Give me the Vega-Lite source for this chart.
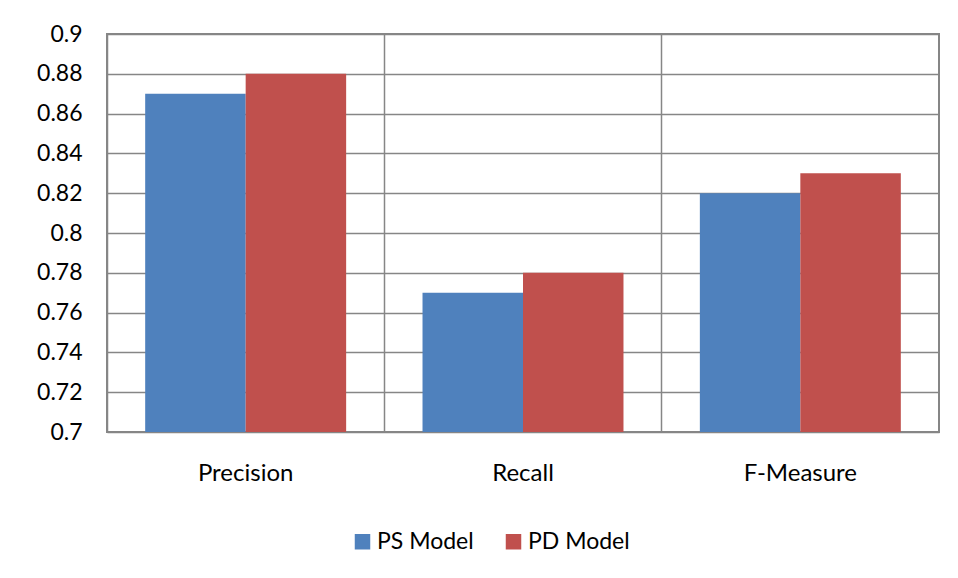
{
  "$schema": "https://vega.github.io/schema/vega-lite/v6.json",
  "width": 832,
  "height": 398,
  "autosize": {"type": "none"},
  "padding": {"left": 107, "top": 34, "right": 19, "bottom": 146},
  "background": "white",
  "data": {"values": [
    {"metric": "Precision", "model": "PS Model", "value": 0.87},
    {"metric": "Precision", "model": "PD Model", "value": 0.88},
    {"metric": "Recall", "model": "PS Model", "value": 0.77},
    {"metric": "Recall", "model": "PD Model", "value": 0.78},
    {"metric": "F-Measure", "model": "PS Model", "value": 0.82},
    {"metric": "F-Measure", "model": "PD Model", "value": 0.83}
  ]},
  "mark": {"type": "bar"},
  "encoding": {
    "x": {
      "field": "metric", "type": "nominal", "sort": ["Precision", "Recall", "F-Measure"],
      "scale": {"paddingInner": 0, "paddingOuter": 0},
      "axis": {"title": null, "labelAngle": 0, "bandPosition": 0, "grid": true, "gridColor": "#868686", "gridWidth": 1.5,
        "ticks": false, "domain": false, "labelPadding": 29, "labelFontSize": 24, "labelFont": "Lato", "labelColor": "#000000"}
    },
    "xOffset": {"field": "model", "type": "nominal", "sort": ["PS Model", "PD Model"], "scale": {"paddingInner": 0, "paddingOuter": 0.38}},
    "y": {
      "field": "value", "type": "quantitative",
      "scale": {"domain": [0.7, 0.9], "zero": false, "nice": false},
      "axis": {"title": null, "values": [0.7, 0.72, 0.74, 0.76, 0.78, 0.8, 0.82, 0.84, 0.86, 0.88, 0.9],
        "labelExpr": "replace(format(datum.value, '.2~f'), /0+$/, '')",
        "grid": true, "gridColor": "#868686", "gridWidth": 1.5, "ticks": false, "domain": false,
        "labelPadding": 25, "labelFontSize": 23, "labelFont": "Lato", "labelColor": "#000000"}
    },
    "y2": {"datum": 0.7},
    "color": {
      "field": "model", "type": "nominal", "sort": ["PS Model", "PD Model"],
      "scale": {"domain": ["PS Model", "PD Model"], "range": ["#4F81BD", "#C0504D"]},
      "legend": {"title": null, "orient": "none", "legendX": 244, "legendY": 496, "direction": "horizontal", "symbolType": "square", "symbolSize": 240,
        "symbolStrokeWidth": 0, "labelFontSize": 23, "labelFont": "Lato", "labelColor": "#000000", "labelOffset": 3, "columnPadding": 28}
    }
  },
  "config": {
    "view": {"stroke": "#868686", "strokeWidth": 2}
  }
}
